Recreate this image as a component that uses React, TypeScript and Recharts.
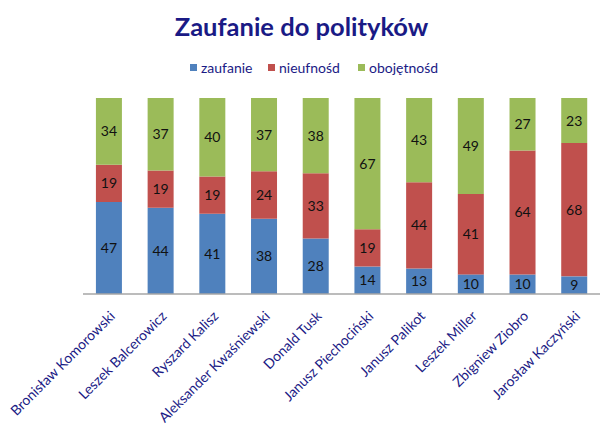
import React from 'react';
import { BarChart, Bar, XAxis, YAxis, LabelList } from 'recharts';

const politicians = [
  'Bronisław Komorowski',
  'Leszek Balcerowicz',
  'Ryszard Kalisz',
  'Aleksander Kwaśniewski',
  'Donald Tusk',
  'Janusz Piechociński',
  'Janusz Palikot',
  'Leszek Miller',
  'Zbigniew Ziobro',
  'Jarosław Kaczyński',
];
const trust = [47, 44, 41, 38, 28, 14, 13, 10, 10, 9];
const distrust = [19, 19, 19, 24, 33, 19, 44, 41, 64, 68];
const indifference = [34, 37, 40, 37, 38, 67, 43, 49, 27, 23];
const seriesKeys = ['zaufanie', 'nieufnosc', 'obojetnosc'];
const seriesNames = ['zaufanie', 'nieufnośd', 'obojętnośd'];
const seriesColors = ['#4F81BD', '#C0504D', '#9BBB59'];
const title = 'Zaufanie do polityków';

const data = politicians.map((name, i) => ({
  name,
  zaufanie: trust[i],
  nieufnosc: distrust[i],
  obojetnosc: indifference[i],
}));

const FONT = 'Lato, "Open Sans", sans-serif';
const NAVY = '#1a1a85';

const Tick = (props: any) => {
  const { x, y, payload } = props;
  return (
    <g transform={`translate(${x + 7},${y + 15}) rotate(-45)`}>
      <text x={0} y={0} textAnchor="end" fill={NAVY} fontSize={14} fontFamily={FONT}>
        {payload.value}
      </text>
    </g>
  );
};

const legendX = [190, 268, 358];

export default function App() {
  return (
    <div style={{ position: 'absolute', left: 0, top: 0, width: 616, height: 441, background: '#fff' }}>
      <BarChart
        width={616}
        height={441}
        data={data}
        margin={{ top: 98, right: 16, left: 83, bottom: 0 }}
        barCategoryGap="25%"
        stackOffset="expand"
      >
        <XAxis
          dataKey="name"
          height={147}
          interval={0}
          tickLine={false}
          axisLine={{ stroke: '#A6A6A6', strokeWidth: 1.5 }}
          tick={<Tick />}
        />
        <YAxis hide domain={[0, 1]} />
        {seriesKeys.map((k, i) => (
          <Bar key={k} dataKey={k} name={seriesNames[i]} stackId="a" fill={seriesColors[i]} isAnimationActive={false}>
            <LabelList dataKey={k} position="center" fill="#111" fontSize={14} fontFamily={FONT} />
          </Bar>
        ))}
      </BarChart>
      <svg width={616} height={90} style={{ position: 'absolute', left: 0, top: 0, pointerEvents: 'none' }}>
        <text x={301.5} y={36} textAnchor="middle" fill={NAVY} fontSize={25.5} fontWeight="bold" fontFamily={FONT}>
          {title}
        </text>
        {seriesNames.map((n, i) => (
          <g key={n}>
            <rect x={legendX[i]} y={64} width={7} height={7} fill={seriesColors[i]} />
            <text x={legendX[i] + 11} y={72.5} fill={NAVY} fontSize={14} fontFamily={FONT}>
              {n}
            </text>
          </g>
        ))}
      </svg>
    </div>
  );
}
